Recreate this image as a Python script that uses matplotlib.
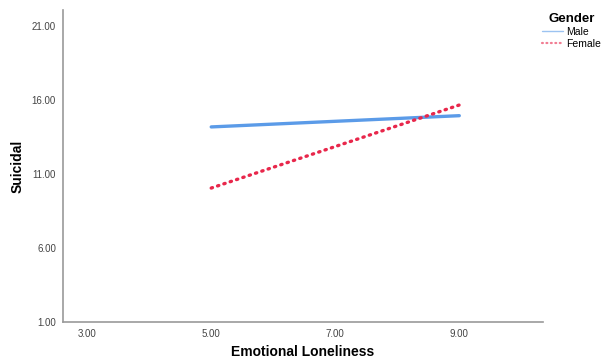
import matplotlib.pyplot as plt

plt.rcParams['font.family'] = ['Liberation Sans', 'DejaVu Sans']

emotional = [5.0, 9.0]
male = [14.18, 14.94]
female = [10.05, 15.66]
xticks = [3, 5, 7, 9]
yticks = [1, 6, 11, 16, 21]

fig = plt.figure(figsize=(6.04, 3.62), dpi=100)
ax = fig.add_axes([63 / 604, 40 / 362, 480 / 604, 312 / 362])

ax.plot(emotional, male, color='#5b9be8', lw=2.4, solid_capstyle='round', label='Male')
ax.plot(emotional, female, color='#e8274b', lw=2.4, linestyle=(0, (0.4, 1.6)),
        dash_capstyle='round', label='Female')

ax.set_xlim(2.61, 10.35)
ax.set_ylim(1, 22.08)
ax.set_xticks(xticks)
ax.set_xticklabels(['%.2f' % v for v in xticks])
ax.set_yticks(yticks)
ax.set_yticklabels(['%.2f' % v for v in yticks])
ax.tick_params(length=0, labelsize=7, colors='#444444')
ax.tick_params(axis='x', pad=5)
ax.tick_params(axis='y', pad=5)

for s in ['top', 'right']:
    ax.spines[s].set_visible(False)
for s in ['left', 'bottom']:
    ax.spines[s].set_color('#999999')
    ax.spines[s].set_linewidth(1.2)

ax.set_xlabel('Emotional Loneliness', fontsize=10, fontweight='bold')
ax.set_ylabel('Suicidal', fontsize=10, fontweight='bold')
ax.xaxis.set_label_coords(0.5, -23 / 312)
ax.yaxis.set_label_coords(-38 / 480, 0.5)

leg = ax.legend(title='Gender', loc='upper left', bbox_to_anchor=(0.99, 1.005),
                frameon=False, fontsize=7.5, handlelength=2.0, handletextpad=0.3,
                labelspacing=0.2, borderaxespad=0)
leg.get_title().set_fontweight('bold')
leg.get_title().set_fontsize(9.5)
leg.legend_handles[0].set_linewidth(1)
leg.legend_handles[0].set_alpha(0.6)
leg.legend_handles[1].set_linewidth(1.6)
leg.legend_handles[1].set_alpha(0.6)

fig.savefig('out.png', dpi=100)
